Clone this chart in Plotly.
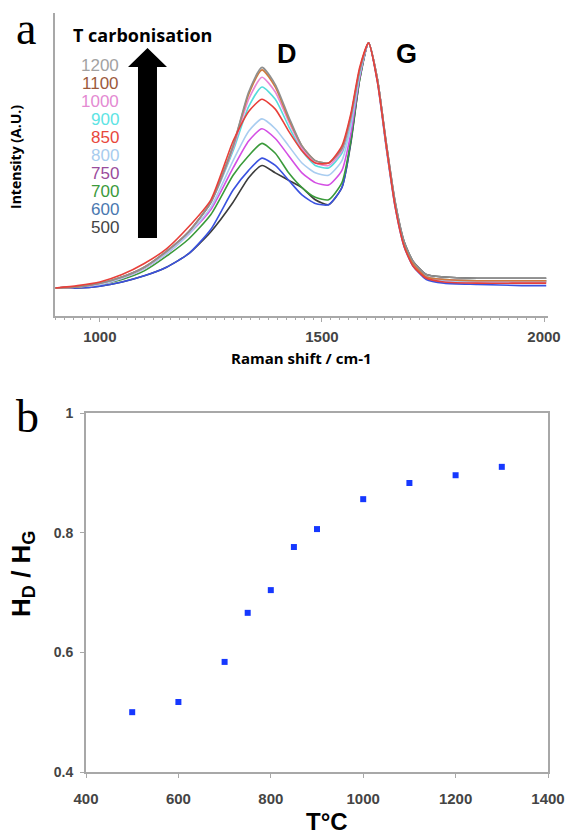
import plotly.graph_objects as go

W, H = 569, 837

# panel a: Raman spectra (normalised to the G band)
RAMAN_SHIFT = [900, 950, 1000, 1050, 1100, 1150, 1200, 1250, 1300, 1335, 1365, 1395, 1425, 1455, 1485,
               1515, 1545, 1565, 1585, 1605, 1625, 1645, 1665, 1685, 1705, 1735, 1775, 1850, 1950, 2005]
T_SPECTRA = [1200, 1100, 1000, 900, 850, 800, 750, 700, 600, 500]
SPECTRA = {
    1200: [0.00, 0.005, 0.02, 0.045, 0.085, 0.15, 0.23, 0.35, 0.58, 0.80, 0.90, 0.83, 0.70, 0.58, 0.52,
           0.51, 0.57, 0.70, 0.89, 1.00, 0.85, 0.59, 0.35, 0.19, 0.11, 0.055, 0.045, 0.04, 0.04, 0.04],
    1100: [0.00, 0.005, 0.02, 0.045, 0.085, 0.15, 0.23, 0.35, 0.58, 0.79, 0.89, 0.82, 0.69, 0.58, 0.52,
           0.51, 0.57, 0.70, 0.89, 1.00, 0.85, 0.58, 0.34, 0.18, 0.10, 0.045, 0.035, 0.03, 0.03, 0.03],
    1000: [0.00, 0.005, 0.02, 0.045, 0.085, 0.15, 0.23, 0.35, 0.57, 0.77, 0.86, 0.80, 0.68, 0.57, 0.51,
           0.50, 0.56, 0.69, 0.89, 1.00, 0.85, 0.58, 0.34, 0.18, 0.10, 0.045, 0.035, 0.03, 0.03, 0.03],
    900: [0.00, 0.005, 0.02, 0.045, 0.085, 0.15, 0.23, 0.35, 0.56, 0.74, 0.82, 0.77, 0.66, 0.56, 0.50,
          0.49, 0.55, 0.68, 0.88, 1.00, 0.85, 0.58, 0.34, 0.18, 0.10, 0.045, 0.035, 0.03, 0.03, 0.03],
    850: [0.00, 0.01, 0.025, 0.055, 0.10, 0.16, 0.25, 0.36, 0.60, 0.72, 0.77, 0.73, 0.64, 0.56, 0.51,
          0.51, 0.58, 0.71, 0.90, 1.00, 0.84, 0.58, 0.33, 0.17, 0.09, 0.04, 0.025, 0.02, 0.02, 0.02],
    800: [0.00, 0.005, 0.015, 0.04, 0.08, 0.14, 0.22, 0.33, 0.52, 0.64, 0.69, 0.65, 0.58, 0.51, 0.47,
          0.46, 0.52, 0.66, 0.87, 1.00, 0.85, 0.58, 0.34, 0.18, 0.10, 0.045, 0.03, 0.025, 0.025, 0.025],
    750: [0.00, 0.005, 0.015, 0.04, 0.08, 0.14, 0.22, 0.32, 0.49, 0.60, 0.65, 0.61, 0.54, 0.47, 0.43,
          0.42, 0.48, 0.63, 0.86, 1.00, 0.85, 0.58, 0.34, 0.18, 0.10, 0.045, 0.03, 0.025, 0.025, 0.025],
    700: [0.00, 0.005, 0.015, 0.035, 0.07, 0.13, 0.20, 0.30, 0.46, 0.54, 0.59, 0.55, 0.47, 0.41, 0.37,
          0.36, 0.43, 0.60, 0.85, 1.00, 0.85, 0.58, 0.34, 0.18, 0.10, 0.045, 0.035, 0.03, 0.03, 0.03],
    600: [0.00, 0.00, 0.008, 0.025, 0.05, 0.085, 0.14, 0.24, 0.40, 0.48, 0.53, 0.50, 0.44, 0.38, 0.345,
          0.34, 0.41, 0.60, 0.86, 1.00, 0.84, 0.57, 0.33, 0.17, 0.09, 0.035, 0.02, 0.015, 0.01, 0.01],
    500: [0.00, 0.00, 0.008, 0.025, 0.05, 0.085, 0.14, 0.23, 0.35, 0.45, 0.50, 0.47, 0.44, 0.41, 0.36,
          0.34, 0.41, 0.59, 0.85, 1.00, 0.85, 0.59, 0.35, 0.19, 0.11, 0.055, 0.045, 0.04, 0.04, 0.04],
}
LINE_COLORS = {1200: '#8f8f8f', 1100: '#d07a3c', 1000: '#ea86d6', 900: '#56dcdc', 850: '#e8403a',
               800: '#a9cdf0', 750: '#d44fe4', 700: '#3a9a3a', 600: '#3a52e0', 500: '#3c3c3c'}
TEXT_COLORS = {1200: '#a2a2a2', 1100: '#9c5a3c', 1000: '#e48ad2', 900: '#5ee4e4', 850: '#e8483c',
               800: '#a8ccee', 750: '#9a4c9c', 700: '#3b9a3b', 600: '#4a78b0', 500: '#444444'}

# panel b: H_D / H_G against carbonisation temperature
T_RATIO = [500, 600, 700, 750, 800, 850, 900, 1000, 1100, 1200, 1300]
HD_HG = [0.500, 0.517, 0.584, 0.666, 0.704, 0.776, 0.806, 0.856, 0.883, 0.896, 0.910]

AXIS_GREY = '#a8a8a8'
SANS = 'Liberation Sans'
TITLE = 'Open Sans'


def px(x):
    return x / W


def py(y):
    return 1 - y / H


def label(text, x, y, size, family=SANS, weight='bold', color='black', angle=0, xanchor='center'):
    return dict(text=text, x=px(x), y=py(y), xref='paper', yref='paper', showarrow=False,
                xanchor=xanchor, yanchor='middle', textangle=angle,
                font=dict(family=family, size=size, color=color, weight=weight))


fig = go.Figure()

# draw red last, it sits on top in the original
order = [t for t in reversed(T_SPECTRA) if t != 850] + [850]
for t in order:
    fig.add_trace(go.Scatter(
        x=RAMAN_SHIFT, y=SPECTRA[t], mode='lines', name=str(t),
        line=dict(color=LINE_COLORS[t], width=1.6, shape='spline', smoothing=0.6),
        xaxis='x', yaxis='y', showlegend=False,
    ))

fig.add_trace(go.Scatter(
    x=T_RATIO, y=HD_HG, mode='markers',
    marker=dict(symbol='square', size=6, color='#1638ff'),
    xaxis='x2', yaxis='y2', showlegend=False,
))

annotations = [
    label('a', 26, 28, 46, family='Liberation Serif', weight='normal'),
    label('b', 27, 416, 46, family='Liberation Serif', weight='normal'),
    label('T carbonisation', 142, 35, 18, family=TITLE),
    label('D', 287, 54, 27),
    label('G', 406, 54, 27),
    label('Intensity (A.U.)', 15, 157, 14, family=TITLE, angle=-90),
    label('Raman shift / cm-1', 301, 358, 15, family=TITLE),
    label('H<sub>D</sub> / H<sub>G</sub>', 22, 574, 26, angle=-90),
    label('T°C', 327, 821, 24),
]
for i, t in enumerate(T_SPECTRA):
    annotations.append(label(str(t), 121, 65 + i * 18.1, 17, weight='normal',
                             color=TEXT_COLORS[t], xanchor='right'))

# thick black arrow next to the temperature list
arrow = [(138, 238), (157, 238), (157, 67), (167, 67), (147.5, 48), (128, 67), (138, 67)]
path = 'M ' + ' L '.join(f'{px(a):.4f},{py(b):.4f}' for a, b in arrow) + ' Z'

fig.update_layout(
    width=W, height=H,
    margin=dict(l=0, r=0, t=0, b=0),
    template='none',
    plot_bgcolor='white', paper_bgcolor='white',
    xaxis=dict(domain=[px(55), px(548)], range=[899, 2009], anchor='y',
               showline=True, linecolor=AXIS_GREY, linewidth=1.5, showgrid=False, zeroline=False,
               ticks='outside', ticklen=4, tickcolor=AXIS_GREY, tickvals=[1000, 1500, 2000],
               tickfont=dict(family=SANS, size=15, weight='bold'), ticklabelstandoff=2,
               minor=dict(dtick=20, tick0=900, ticks='outside', ticklen=2, tickcolor=AXIS_GREY),
               automargin=False),
    yaxis=dict(domain=[py(316), py(13)], range=[-0.114, 1.122], anchor='x',
               showline=True, linecolor=AXIS_GREY, linewidth=1.5, showgrid=False, zeroline=False,
               showticklabels=False, ticks='', automargin=False),
    xaxis2=dict(domain=[px(86), px(548)], range=[400, 1400], anchor='y2',
                showline=True, mirror=True, linecolor=AXIS_GREY, linewidth=2, showgrid=False,
                zeroline=False, ticks='outside', ticklen=4, tickcolor=AXIS_GREY, dtick=200,
                tickfont=dict(family=SANS, size=15, weight='bold'), ticklabelstandoff=8,
                automargin=False),
    yaxis2=dict(domain=[py(772), py(413)], range=[0.4, 1.0], anchor='x2',
                showline=True, mirror=True, linecolor=AXIS_GREY, linewidth=2, showgrid=False,
                zeroline=False, ticks='outside', ticklen=4, tickcolor=AXIS_GREY, dtick=0.2,
                tickfont=dict(family=SANS, size=14, weight='bold'), ticklabelstandoff=4,
                automargin=False),
    shapes=[dict(type='path', path=path, xref='paper', yref='paper',
                 fillcolor='black', line=dict(width=0))],
    annotations=annotations,
)

# the page body has a default 8px margin, which would push the figure off the window
fig.write_html('out.html', config={'displayModeBar': False},
               post_script="document.body.style.margin='0px';")
